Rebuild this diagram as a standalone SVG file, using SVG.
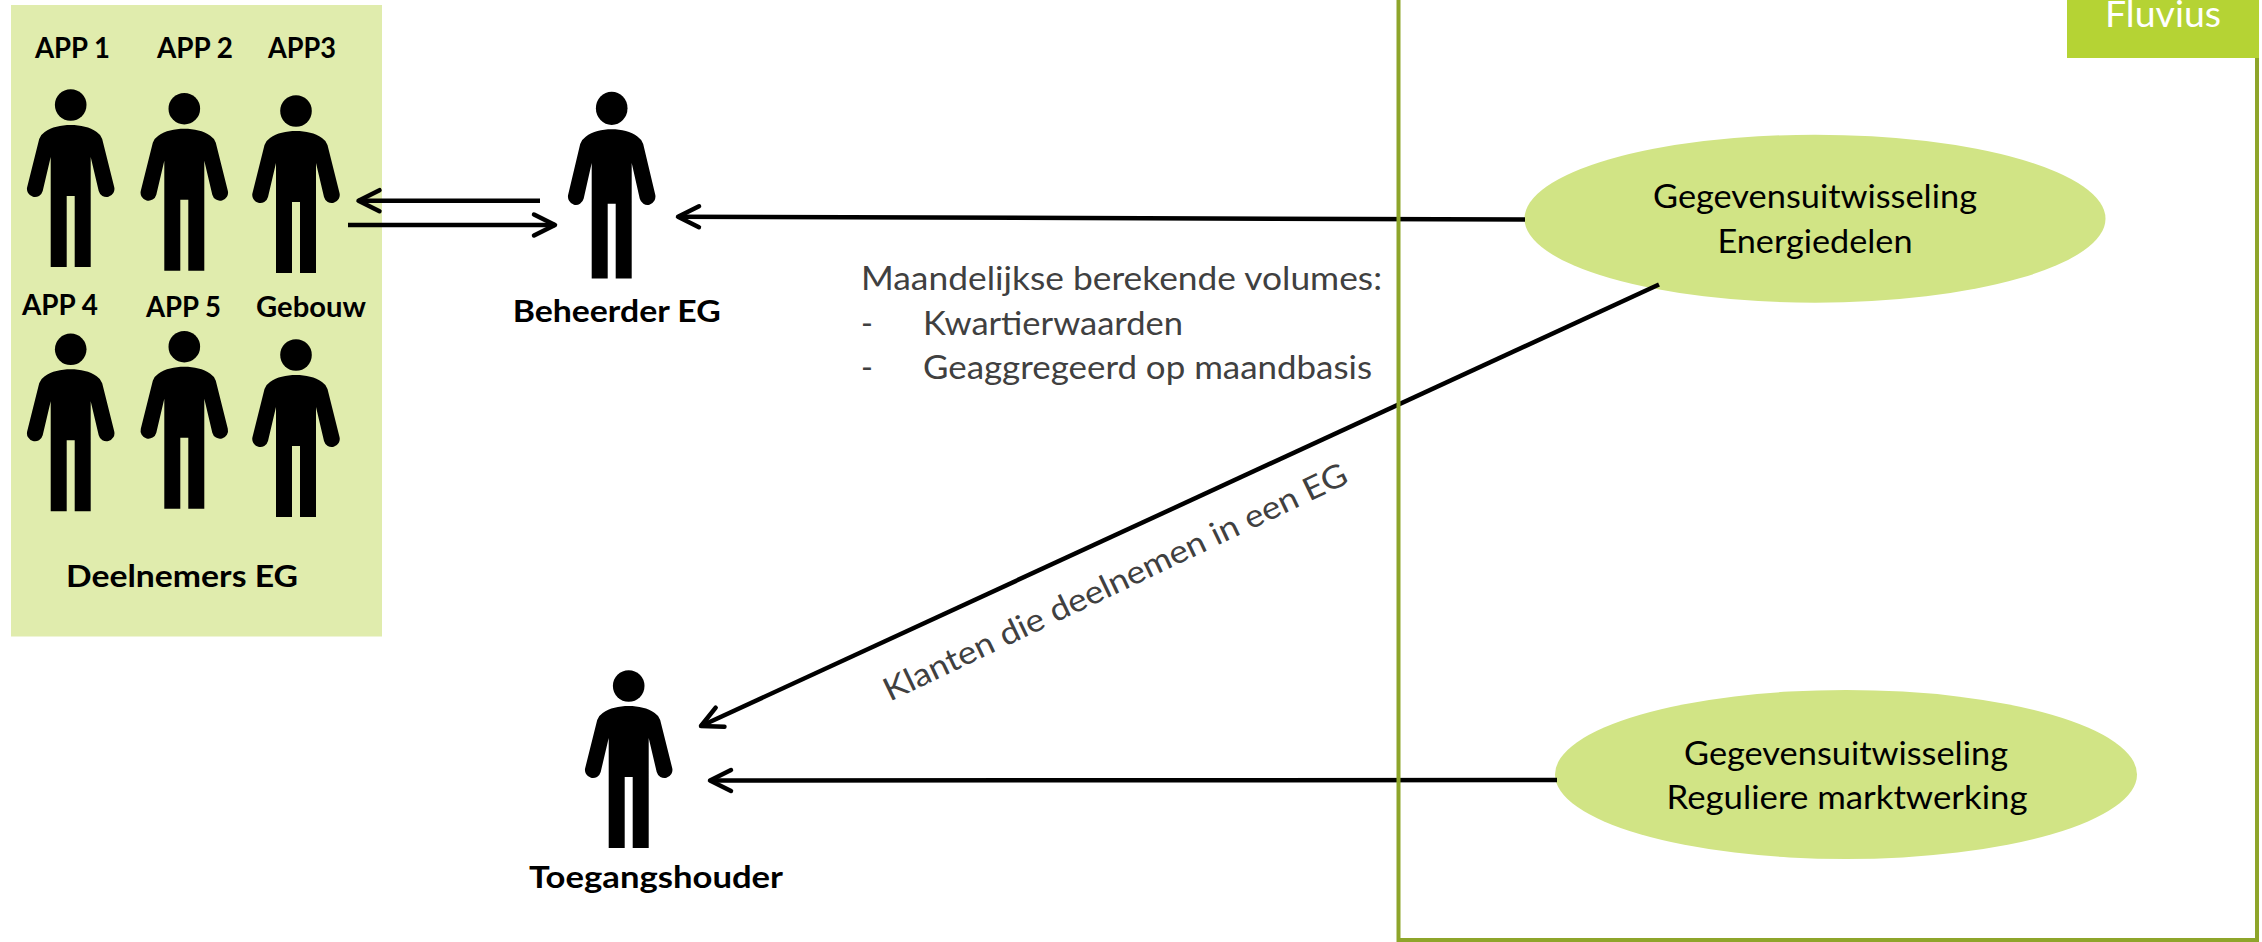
<svg xmlns="http://www.w3.org/2000/svg" width="2262" height="942" viewBox="0 0 2262 942">
<style>
text{font-family:"Lato","Open Sans","Liberation Sans",sans-serif}
.b{font-weight:700;fill:#000;font-size:28px}
.l{font-weight:700;fill:#000;font-size:31px}
.g{fill:#404040;font-size:32px}
.e{fill:#000;font-size:32px;text-anchor:middle}
.c{fill:none;stroke:#000;stroke-width:4.5}
.oval{fill:#d1e485}
</style>
<defs>
<marker id="ah" markerUnits="userSpaceOnUse" markerWidth="30" markerHeight="30" refX="24" refY="15" orient="auto" overflow="visible">
<path d="M3,4.5 L24,15 L3,25.5" fill="none" stroke="#000" stroke-width="4.5" stroke-linecap="round" stroke-linejoin="round"/>
</marker>
<g id="person">
<circle cx="0" cy="0" r="15.8"/>
<path d="M0,20 C-10,20 -19,22 -26,27 Q-30,29.5 -31.5,34 L-43.5,82 A8,8 0 0 0 -28,86 L-20,52 V162 H-4 V91 H4 V162 H20 V52 L28,86 A8,8 0 0 0 43.5,82 L31.5,34 Q30,29.5 26,27 C19,22 10,20 0,20 Z"/>
</g>
</defs>
<rect width="2262" height="942" fill="#fff"/>
<g id="deelnemers-bg"><rect x="11" y="5" width="371" height="631.5" fill="#e0ecad"/></g>
<g id="oval-energiedelen">
<ellipse class="oval" cx="1815" cy="218.7" rx="290.5" ry="84"/>
<text class="e" x="1815" y="208" textLength="324" lengthAdjust="spacingAndGlyphs">Gegevensuitwisseling</text>
<text class="e" x="1815" y="253" textLength="195" lengthAdjust="spacingAndGlyphs">Energiedelen</text>
</g>
<g id="oval-regulier">
<ellipse class="oval" cx="1846" cy="774.5" rx="291" ry="84.5"/>
<text class="e" x="1846" y="765" textLength="324" lengthAdjust="spacingAndGlyphs">Gegevensuitwisseling</text>
<text class="e" x="1847" y="809" textLength="361" lengthAdjust="spacingAndGlyphs">Reguliere marktwerking</text>
</g>
<g id="connectors">
<line class="c" x1="540" y1="200.7" x2="358.5" y2="200.7" marker-end="url(#ah)"/>
<line class="c" x1="348" y1="225" x2="555" y2="225" marker-end="url(#ah)"/>
<line class="c" x1="1525" y1="219.5" x2="678" y2="216.7" marker-end="url(#ah)"/>
<line class="c" x1="1659" y1="284.5" x2="701" y2="726" marker-end="url(#ah)"/>
<line class="c" x1="1557" y1="780" x2="710" y2="780.5" marker-end="url(#ah)"/>
</g>
<g id="fluvius-frame">
<rect x="1398.5" y="-10" width="858.5" height="950" fill="none" stroke="#8ea52a" stroke-width="4"/>
<rect x="2067" y="0" width="192" height="58" fill="#b5d334"/>
<text x="2105" y="27" font-size="36" fill="#fff" textLength="116" lengthAdjust="spacingAndGlyphs">Fluvius</text>
</g>
<g id="app1"><use href="#person" x="70.7" y="105"/><text class="b" x="35" y="58" textLength="75" lengthAdjust="spacingAndGlyphs">APP 1</text></g>
<g id="app2"><use href="#person" x="184.3" y="108.7"/><text class="b" x="157" y="58" textLength="76" lengthAdjust="spacingAndGlyphs">APP 2</text></g>
<g id="app3"><use href="#person" x="296" y="111"/><text class="b" x="268" y="58" textLength="68" lengthAdjust="spacingAndGlyphs">APP3</text></g>
<g id="app4"><use href="#person" x="70.7" y="349.3"/><text class="b" x="22" y="315" textLength="76" lengthAdjust="spacingAndGlyphs">APP 4</text></g>
<g id="app5"><use href="#person" x="184.3" y="346.7"/><text class="b" x="146" y="317" textLength="75" lengthAdjust="spacingAndGlyphs">APP 5</text></g>
<g id="gebouw"><use href="#person" x="296" y="355"/><text class="b" x="256" y="317" textLength="110" lengthAdjust="spacingAndGlyphs">Gebouw</text></g>
<g id="deelnemers-label"><text class="l" x="66" y="587" textLength="232" lengthAdjust="spacingAndGlyphs">Deelnemers EG</text></g>
<g id="beheerder"><use href="#person" transform="translate(611.7 108.3) scale(1 1.05)"/><text class="l" x="512.7" y="321.7" textLength="208" lengthAdjust="spacingAndGlyphs">Beheerder EG</text></g>
<g id="toegangshouder"><use href="#person" x="628.7" y="686"/><text class="l" x="529" y="888" textLength="254" lengthAdjust="spacingAndGlyphs">Toegangshouder</text></g>
<g id="label-volumes">
<text class="g" x="861" y="290" textLength="521" lengthAdjust="spacingAndGlyphs">Maandelijkse berekende volumes:</text>
<text class="g" x="861" y="335">-</text>
<text class="g" x="923" y="335" textLength="260" lengthAdjust="spacingAndGlyphs">Kwartierwaarden</text>
<text class="g" x="861" y="379">-</text>
<text class="g" x="923" y="379" textLength="449" lengthAdjust="spacingAndGlyphs">Geaggregeerd op maandbasis</text>
</g>
<g id="label-klanten">
<text class="g" text-anchor="middle" transform="translate(1120,592) rotate(-25.5)" textLength="510" lengthAdjust="spacingAndGlyphs">Klanten die deelnemen in een EG</text>
</g>
</svg>
